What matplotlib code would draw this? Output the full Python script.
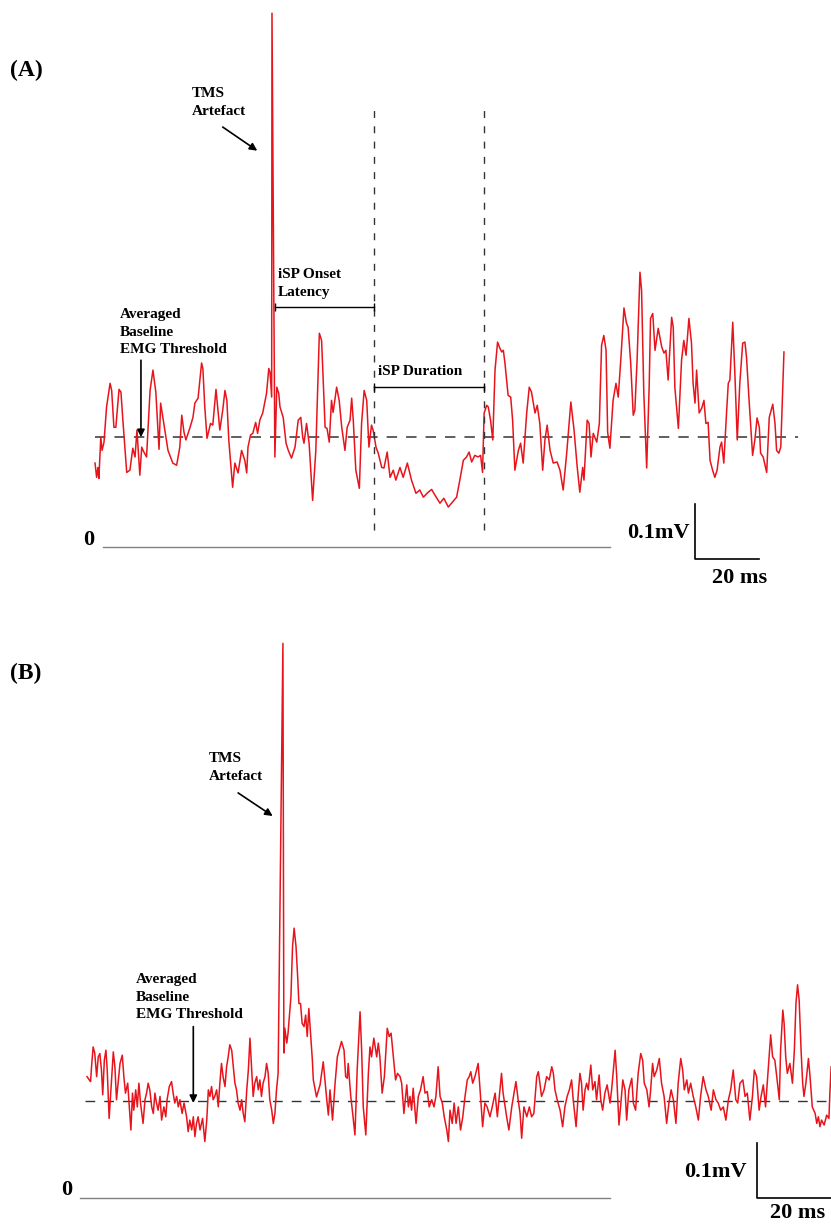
import matplotlib.pyplot as plt

plt.rcParams['font.family'] = ['Liberation Serif', 'DejaVu Serif']
plt.rcParams['font.weight'] = 'bold'
plt.rcParams['lines.scale_dashes'] = False

# ---- data (time in ms relative to the TMS pulse, amplitude in mV) ----
# Panel A: averaged rectified EMG with silent period
t_a = [-55.6, -55.1, -54.7, -54.4, -53.8, -53.4, -52.8, -52.0, -50.9, -50.4,
       -49.7, -49.1, -48.1, -47.5, -46.9, -45.7, -44.7, -43.8, -43.1, -42.5,
       -41.6, -41.0, -40.6, -39.5, -38.4, -37.5, -36.6, -35.6, -35.1, -34.4,
       -32.8, -31.3, -30.1, -29.1, -28.5, -27.8, -27.2, -25.9, -25.0, -24.4,
       -23.4, -22.3, -21.9, -21.3, -20.6, -19.5, -18.8, -17.8, -16.6, -15.7,
       -15.0, -14.4, -13.8, -12.6, -11.9, -10.9, -9.8, -8.8, -8.2, -7.8,
       -7.0, -6.3, -5.4, -4.8, -4.1, -3.2, -2.0, -1.3, -0.9, -0.4,
       -0.3, 0.6, 1.2, 1.8, 2.2, 3.2, 4.1, 4.8, 5.8, 6.9,
       7.9, 8.7, 9.3, 9.7, 10.5, 11.3, 12.4, 13.4, 14.5, 15.2,
       15.8, 16.3, 16.9, 17.6, 18.3, 18.8, 19.9, 20.7, 21.5, 22.5,
       23.2, 24.1, 24.6, 25.1, 25.9, 27.0, 27.7, 28.5, 29.3, 30.0,
       30.8, 31.3, 32.2, 32.9, 34.0, 34.7, 35.7, 36.6, 37.6, 38.4,
       39.7, 40.7, 42.0, 43.3, 44.7, 45.9, 47.0, 48.5, 49.6, 50.6,
       52.2, 53.4, 54.8, 55.8, 57.4, 58.4, 59.5, 60.5, 61.3, 62.1,
       63.1, 64.1, 64.9, 65.5, 66.0, 66.8, 67.3, 68.0, 68.7, 69.4,
       70.2, 70.9, 71.5, 72.0, 72.5, 73.5, 74.3, 74.9, 75.6, 76.7,
       77.4, 78.2, 79.3, 80.1, 80.8, 81.9, 82.6, 83.4, 84.3, 85.0,
       85.7, 86.6, 87.6, 88.8, 89.7, 90.7, 91.8, 93.1, 94.1, 95.1,
       95.9, 96.8, 97.2, 98.2, 98.8, 99.4, 100.1, 101.2, 102.0, 102.7,
       103.4, 104.1, 104.6, 105.3, 106.3, 107.2, 107.9, 108.7, 109.7, 110.5,
       111.0, 111.8, 112.6, 113.1, 113.8, 114.7, 115.2, 115.9, 116.8, 117.6,
       118.0, 118.7, 119.4, 120.4, 121.5, 122.2, 122.8, 123.5, 124.6, 125.1,
       125.6, 126.7, 127.7, 128.4, 129.1, 130.0, 130.8, 131.3, 131.9, 132.4,
       133.2, 134.0, 134.7, 135.3, 136.0, 136.6, 137.4, 138.1, 138.8, 139.7,
       140.2, 140.9, 141.8, 142.3, 142.8, 143.7, 144.4, 145.1, 145.9, 146.8,
       147.5, 148.0, 148.8, 149.9, 150.6, 151.3, 152.0, 152.4, 153.2, 154.3,
       155.1, 156.2, 156.9, 157.4, 158.1, 158.7, 159.7]
v_a = [0.153, 0.127, 0.145, 0.125, 0.200, 0.176, 0.191, 0.255, 0.298, 0.285,
       0.218, 0.218, 0.287, 0.282, 0.231, 0.136, 0.140, 0.180, 0.164, 0.213,
       0.131, 0.182, 0.176, 0.164, 0.285, 0.322, 0.282, 0.178, 0.262, 0.236,
       0.176, 0.153, 0.149, 0.182, 0.240, 0.209, 0.195, 0.218, 0.236, 0.262,
       0.271, 0.335, 0.325, 0.255, 0.198, 0.225, 0.222, 0.287, 0.213, 0.249,
       0.285, 0.267, 0.195, 0.109, 0.153, 0.135, 0.176, 0.158, 0.135, 0.182,
       0.204, 0.207, 0.227, 0.207, 0.231, 0.244, 0.280, 0.325, 0.318, 0.273,
       0.971, 0.164, 0.291, 0.280, 0.255, 0.236, 0.189, 0.176, 0.162, 0.182,
       0.231, 0.236, 0.200, 0.189, 0.225, 0.189, 0.085, 0.176, 0.389, 0.376,
       0.291, 0.218, 0.216, 0.191, 0.267, 0.245, 0.291, 0.267, 0.218, 0.176,
       0.218, 0.231, 0.271, 0.231, 0.140, 0.107, 0.225, 0.285, 0.267, 0.182,
       0.222, 0.213, 0.182, 0.171, 0.145, 0.144, 0.173, 0.127, 0.140, 0.122,
       0.145, 0.127, 0.153, 0.122, 0.098, 0.104, 0.091, 0.100, 0.105, 0.095,
       0.080, 0.089, 0.073, 0.080, 0.091, 0.122, 0.158, 0.164, 0.173, 0.155,
       0.167, 0.164, 0.167, 0.136, 0.244, 0.258, 0.255, 0.231, 0.195, 0.322,
       0.373, 0.362, 0.355, 0.358, 0.335, 0.276, 0.273, 0.231, 0.140, 0.176,
       0.189, 0.153, 0.244, 0.291, 0.282, 0.244, 0.258, 0.225, 0.140, 0.195,
       0.222, 0.176, 0.153, 0.155, 0.140, 0.104, 0.171, 0.264, 0.213, 0.145,
       0.100, 0.145, 0.122, 0.231, 0.225, 0.164, 0.207, 0.191, 0.225, 0.367,
       0.385, 0.358, 0.209, 0.180, 0.267, 0.298, 0.273, 0.340, 0.435, 0.407,
       0.400, 0.335, 0.240, 0.249, 0.340, 0.500, 0.467, 0.280, 0.144, 0.298,
       0.416, 0.425, 0.358, 0.398, 0.364, 0.353, 0.358, 0.304, 0.418, 0.400,
       0.291, 0.216, 0.340, 0.376, 0.349, 0.416, 0.371, 0.298, 0.262, 0.322,
       0.244, 0.253, 0.267, 0.225, 0.227, 0.158, 0.140, 0.127, 0.140, 0.182,
       0.191, 0.153, 0.249, 0.298, 0.304, 0.409, 0.309, 0.195, 0.298, 0.371,
       0.373, 0.345, 0.267, 0.167, 0.195, 0.235, 0.218, 0.171, 0.164, 0.136,
       0.236, 0.260, 0.225, 0.176, 0.171, 0.182, 0.355]

threshold_a = 0.200
isp_onset = 31.7
isp_offset = 66.0

# Panel B: averaged rectified EMG, no silent period
t_b = [-61.2, -60.5, -60.1, -59.8, -59.3, -58.8, -58.2, -57.7, -57.2, -56.7,
       -56.3, -55.8, -55.3, -54.9, -54.3, -53.5, -53.0, -52.5, -52.0, -51.5,
       -50.9, -50.2, -49.7, -49.2, -48.5, -48.0, -47.5, -47.0, -46.6, -46.0,
       -45.5, -45.0, -44.5, -43.7, -43.1, -42.6, -42.1, -41.6, -41.0, -40.5,
       -40.0, -39.5, -39.0, -38.4, -37.9, -37.2, -36.6, -36.2, -35.5, -34.8,
       -34.3, -33.8, -33.2, -32.7, -32.2, -31.5, -30.9, -30.1, -29.6, -29.1,
       -28.5, -28.0, -27.5, -27.0, -26.5, -25.9, -25.1, -24.4, -23.8, -23.3,
       -22.8, -22.3, -21.8, -21.3, -20.7, -20.2, -19.7, -19.2, -18.7, -18.1,
       -17.6, -17.1, -16.6, -16.0, -15.5, -15.0, -14.5, -14.0, -13.4, -12.9,
       -12.4, -11.9, -11.3, -10.8, -10.3, -9.8, -9.3, -8.8, -8.2, -7.7,
       -7.2, -6.7, -6.2, -5.6, -5.1, -4.6, -4.1, -3.5, -3.0, -2.5,
       -2.0, -1.5, 0.0, 0.3, 0.6, 1.2, 1.6, 2.0, 2.5, 3.0,
       3.5, 4.1, 4.6, 5.0, 5.5, 6.0, 6.6, 7.1, 7.6, 8.1,
       8.7, 9.2, 9.5, 10.5, 11.6, 12.6, 13.7, 14.2, 14.7, 15.5,
       16.3, 17.0, 18.3, 19.1, 19.6, 20.1, 20.4, 21.2, 21.8, 22.5,
       23.2, 24.1, 24.6, 25.1, 25.9, 26.7, 27.2, 27.7, 28.4, 29.3,
       29.8, 30.3, 31.0, 31.7, 32.6, 33.2, 33.8, 34.5, 35.2, 35.8,
       36.6, 37.1, 37.8, 38.7, 39.2, 39.7, 40.2, 40.7, 41.6, 42.3,
       43.0, 43.8, 44.4, 45.1, 45.7, 46.5, 47.2, 47.8, 48.5, 49.1,
       49.8, 50.4, 51.2, 51.7, 52.2, 52.9, 53.5, 54.1, 54.8, 55.5,
       56.2, 56.9, 57.6, 58.2, 58.7, 59.3, 60.0, 60.5, 61.0, 61.6,
       62.4, 63.1, 63.8, 64.7, 65.4, 66.3, 67.0, 67.8, 68.3, 68.8,
       69.9, 70.6, 71.5, 72.2, 72.8, 73.5, 74.1, 74.6, 75.3, 76.2,
       77.0, 77.7, 78.4, 79.3, 79.8, 80.3, 80.8, 81.6, 82.4, 83.2,
       84.0, 84.5, 85.0, 85.7, 86.6, 87.4, 88.1, 88.8, 89.5, 90.2,
       90.7, 91.6, 92.3, 92.8, 93.3, 93.8, 94.4, 94.9, 95.4, 96.2,
       96.8, 97.5, 98.0, 98.8, 99.3, 99.9, 100.6, 101.3, 102.2, 102.7,
       103.8, 104.3, 105.0, 105.5, 106.2, 106.9, 107.4, 108.1, 109.0, 109.5,
       110.2, 111.0, 111.8, 112.4, 112.9, 113.7, 114.4, 114.9, 115.5, 116.0,
       116.8, 117.6, 118.3, 119.1, 119.9, 120.6, 121.3, 122.0, 122.8, 123.5,
       124.3, 124.9, 125.4, 126.2, 126.7, 127.4, 128.2, 129.0, 129.8, 130.5,
       131.3, 132.2, 132.9, 133.8, 134.5, 135.3, 136.0, 136.8, 137.6, 138.4,
       139.2, 139.9, 140.7, 141.5, 142.1, 142.8, 143.7, 144.4, 145.1, 145.9,
       146.7, 147.3, 148.0, 148.8, 149.4, 150.1, 150.8, 151.7, 152.4, 153.0,
       153.7, 154.3, 155.1, 155.5, 156.2, 156.6, 157.1, 157.6, 158.4, 159.2,
       159.8, 160.3, 160.8, 161.3, 161.9, 162.4, 162.8, 163.4, 164.2, 164.7,
       165.4, 166.3, 166.8, 167.3, 167.8, 168.3, 169.1, 169.9, 170.6, 170.9,
       171.3]
v_b = [0.217, 0.211, 0.208, 0.235, 0.271, 0.260, 0.217, 0.253, 0.259, 0.229,
       0.184, 0.247, 0.265, 0.229, 0.141, 0.217, 0.262, 0.235, 0.175, 0.205,
       0.241, 0.256, 0.217, 0.187, 0.205, 0.162, 0.120, 0.187, 0.156, 0.193,
       0.162, 0.205, 0.169, 0.132, 0.175, 0.187, 0.205, 0.193, 0.162, 0.150,
       0.187, 0.169, 0.156, 0.181, 0.138, 0.162, 0.144, 0.175, 0.199, 0.208,
       0.187, 0.169, 0.181, 0.162, 0.175, 0.150, 0.169, 0.144, 0.117, 0.138,
       0.120, 0.144, 0.108, 0.132, 0.144, 0.120, 0.141, 0.099, 0.138, 0.193,
       0.181, 0.199, 0.175, 0.181, 0.193, 0.162, 0.205, 0.241, 0.217, 0.199,
       0.235, 0.253, 0.275, 0.265, 0.235, 0.205, 0.193, 0.169, 0.156, 0.175,
       0.150, 0.135, 0.193, 0.229, 0.287, 0.235, 0.181, 0.205, 0.217, 0.193,
       0.211, 0.181, 0.205, 0.217, 0.241, 0.223, 0.175, 0.156, 0.132, 0.150,
       0.193, 0.223, 1.005, 0.260, 0.305, 0.278, 0.296, 0.326, 0.362, 0.453,
       0.487, 0.453, 0.399, 0.350, 0.350, 0.314, 0.308, 0.329, 0.290, 0.341,
       0.290, 0.247, 0.211, 0.180, 0.202, 0.244, 0.175, 0.147, 0.193, 0.138,
       0.205, 0.253, 0.281, 0.265, 0.217, 0.214, 0.241, 0.181, 0.150, 0.111,
       0.229, 0.335, 0.265, 0.162, 0.111, 0.223, 0.271, 0.253, 0.287, 0.253,
       0.278, 0.253, 0.187, 0.217, 0.305, 0.290, 0.296, 0.253, 0.211, 0.223,
       0.217, 0.205, 0.150, 0.202, 0.162, 0.181, 0.156, 0.196, 0.132, 0.181,
       0.193, 0.217, 0.187, 0.190, 0.162, 0.175, 0.162, 0.181, 0.235, 0.181,
       0.169, 0.144, 0.120, 0.099, 0.156, 0.132, 0.169, 0.132, 0.162, 0.120,
       0.144, 0.181, 0.211, 0.217, 0.226, 0.205, 0.217, 0.229, 0.241, 0.193,
       0.126, 0.169, 0.162, 0.144, 0.162, 0.187, 0.144, 0.193, 0.223, 0.187,
       0.144, 0.120, 0.162, 0.187, 0.208, 0.175, 0.150, 0.105, 0.162, 0.144,
       0.162, 0.144, 0.150, 0.217, 0.226, 0.205, 0.181, 0.193, 0.217, 0.211,
       0.235, 0.223, 0.193, 0.175, 0.156, 0.126, 0.162, 0.181, 0.193, 0.211,
       0.175, 0.126, 0.187, 0.223, 0.205, 0.156, 0.193, 0.205, 0.193, 0.238,
       0.193, 0.208, 0.175, 0.220, 0.175, 0.156, 0.187, 0.202, 0.169, 0.193,
       0.265, 0.217, 0.129, 0.162, 0.211, 0.193, 0.138, 0.193, 0.214, 0.169,
       0.156, 0.223, 0.259, 0.247, 0.205, 0.193, 0.162, 0.193, 0.241, 0.217,
       0.229, 0.250, 0.205, 0.181, 0.132, 0.169, 0.193, 0.175, 0.132, 0.205,
       0.250, 0.229, 0.193, 0.211, 0.187, 0.205, 0.181, 0.162, 0.138, 0.181,
       0.217, 0.193, 0.181, 0.156, 0.193, 0.175, 0.169, 0.156, 0.162, 0.138,
       0.175, 0.193, 0.229, 0.175, 0.169, 0.205, 0.211, 0.181, 0.187, 0.138,
       0.181, 0.229, 0.217, 0.156, 0.181, 0.202, 0.162, 0.235, 0.293, 0.253,
       0.247, 0.217, 0.175, 0.265, 0.338, 0.314, 0.253, 0.223, 0.241, 0.205,
       0.265, 0.350, 0.384, 0.356, 0.265, 0.205, 0.181, 0.205, 0.250, 0.217,
       0.162, 0.150, 0.132, 0.144, 0.126, 0.138, 0.129, 0.147, 0.141, 0.187,
       0.235]

threshold_b = 0.173

RED = '#e8141c'
LABEL_SIZE = 11
SCALE_SIZE = 16


def arrow(ax, tail, head):
    ax.annotate('', xy=head, xytext=tail,
                arrowprops=dict(arrowstyle='-|>', color='black', lw=1.2,
                                mutation_scale=11, shrinkA=0, shrinkB=0))


fig = plt.figure(figsize=(8.31, 12.24), dpi=100)
ax_a = fig.add_axes([0, 624 / 1224, 1, 600 / 1224])
ax_b = fig.add_axes([0, 0, 1, 612 / 1224])
for ax in (ax_a, ax_b):
    ax.axis('off')

# ---------------- panel A ----------------
ax_a.set_xlim(-85.3, 174.4)
ax_a.set_ylim(-0.096, 0.995)

ax_a.plot([t_a[0], 164.1], [threshold_a, threshold_a], color='#333333',
          lw=1.1, dashes=(7.5, 6.5))
ax_a.plot(t_a, v_a, color=RED, lw=1.1)
ax_a.plot([-53.1, 105.3], [0, 0], color='#808080', lw=1.0)
ax_a.vlines([isp_onset, isp_offset], 0.031, 0.795, colors='#333333', lw=1.0,
            linestyles=[(0, (5, 6))])

# onset latency bracket
ax_a.plot([0.6, isp_onset], [0.437, 0.437], color='black', lw=1.0)
ax_a.vlines([0.6, isp_onset], 0.430, 0.444, colors='black', lw=1.0)
ax_a.text(1.6, 0.48, 'iSP Onset\nLatency', fontsize=LABEL_SIZE, ha='left',
          va='center', linespacing=1.5)
# duration bracket
ax_a.plot([isp_onset, isp_offset], [0.291, 0.291], color='black', lw=1.0)
ax_a.vlines([isp_onset, isp_offset], 0.284, 0.298, colors='black', lw=1.0)
ax_a.text(32.8, 0.319, 'iSP Duration', fontsize=LABEL_SIZE, ha='left',
          va='center')

ax_a.text(-82.2, 0.867, '(A)', fontsize=17, ha='left', va='center')
ax_a.text(-25.3, 0.809, 'TMS\nArtefact', fontsize=LABEL_SIZE, ha='left',
          va='center', linespacing=1.5)
arrow(ax_a, (-15.7, 0.764), (-4.9, 0.721))
ax_a.text(-47.8, 0.391, 'Averaged\nBaseline\nEMG Threshold',
          fontsize=LABEL_SIZE, ha='left', va='center', linespacing=1.45)
arrow(ax_a, (-41.25, 0.340), (-41.25, 0.200))

ax_a.text(-57.7, 0.013, '0', fontsize=SCALE_SIZE, ha='center', va='center')
ax_a.plot([131.9, 131.9, 151.9], [0.078, -0.022, -0.022], color='black',
          lw=1.2)
ax_a.text(130.3, 0.025, '0.1mV', fontsize=SCALE_SIZE, ha='right',
          va='center')
ax_a.text(145.9, -0.056, '20 ms', fontsize=SCALE_SIZE, ha='center',
          va='center')

# ---------------- panel B ----------------
ax_b.set_xlim(-88.4, 171.25)
ax_b.set_ylim(-0.051, 1.062)

ax_b.plot([-61.9, 175.0], [threshold_b, threshold_b], color='#333333',
          lw=1.0, dashes=(7.0, 6.5))
ax_b.plot(t_b, v_b, color=RED, lw=1.1)
ax_b.plot([-63.4, 102.2], [-0.003, -0.003], color='#808080', lw=1.0)

ax_b.text(-85.3, 0.951, '(B)', fontsize=17, ha='left', va='center')
ax_b.text(-23.3, 0.779, 'TMS\nArtefact', fontsize=LABEL_SIZE, ha='left',
          va='center', linespacing=1.5)
arrow(ax_b, (-14.0, 0.733), (-3.2, 0.691))
ax_b.text(-45.9, 0.361, 'Averaged\nBaseline\nEMG Threshold',
          fontsize=LABEL_SIZE, ha='left', va='center', linespacing=1.45)
arrow(ax_b, (-28.0, 0.308), (-28.0, 0.169))

ax_b.text(-67.5, 0.011, '0', fontsize=SCALE_SIZE, ha='center', va='center')
ax_b.plot([148.0, 148.0, 176.0], [0.097, -0.003, -0.003], color='black',
          lw=1.2)
ax_b.text(145.0, 0.044, '0.1mV', fontsize=SCALE_SIZE, ha='right',
          va='center')
ax_b.text(152.3, -0.031, '20 ms', fontsize=SCALE_SIZE, ha='left',
          va='center')

fig.savefig('out.png', dpi=100)
